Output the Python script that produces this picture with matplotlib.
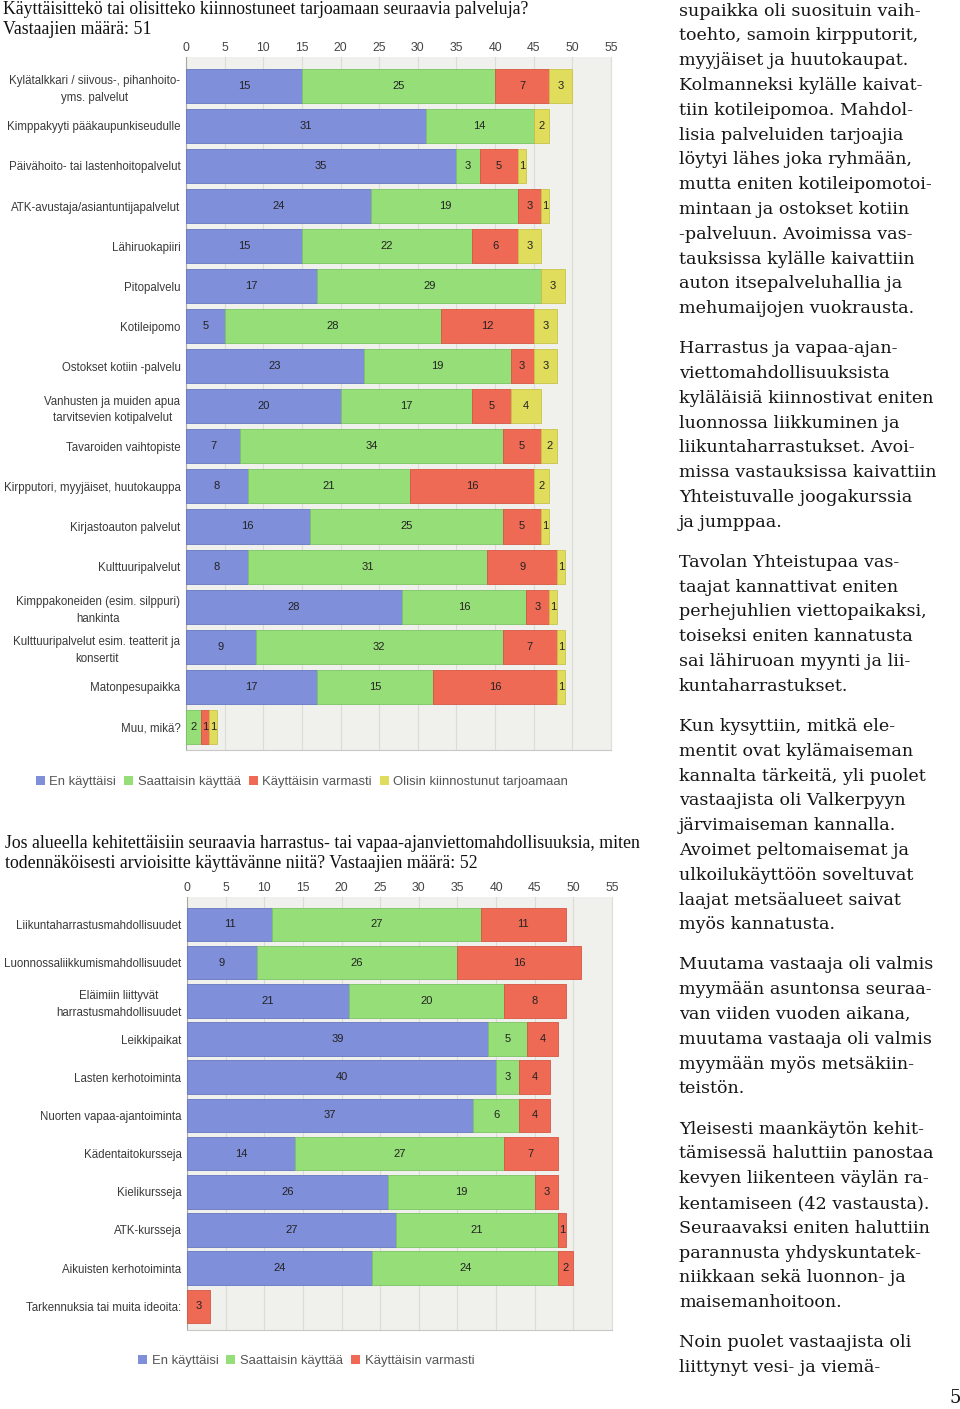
import matplotlib
matplotlib.use("Agg")
import matplotlib.pyplot as plt
from matplotlib.patches import Patch
import numpy as np

# ---------------- data ----------------
cats1 = ["Kylätalkkari / siivous-, pihanhoito-\nyms. palvelut",
         "Kimppakyyti pääkaupunkiseudulle",
         "Päivähoito- tai lastenhoitopalvelut",
         "ATK-avustaja/asiantuntijapalvelut",
         "Lähiruokapiiri",
         "Pitopalvelu",
         "Kotileipomo",
         "Ostokset kotiin -palvelu",
         "Vanhusten ja muiden apua\ntarvitsevien kotipalvelut",
         "Tavaroiden vaihtopiste",
         "Kirpputori, myyjäiset, huutokauppa",
         "Kirjastoauton palvelut",
         "Kulttuuripalvelut",
         "Kimppakoneiden (esim. silppuri)\nhankinta",
         "Kulttuuripalvelut esim. teatterit ja\nkonsertit",
         "Matonpesupaikka",
         "Muu, mikä?"]
en_kayttaisi1 = [15, 31, 35, 24, 15, 17, 5, 23, 20, 7, 8, 16, 8, 28, 9, 17, 0]
saattaisin1   = [25, 14, 3, 19, 22, 29, 28, 19, 17, 34, 21, 25, 31, 16, 32, 15, 2]
varmasti1     = [7, 0, 5, 3, 6, 0, 12, 3, 5, 5, 16, 5, 9, 3, 7, 16, 1]
tarjoamaan1   = [3, 2, 1, 1, 3, 3, 3, 3, 4, 2, 2, 1, 1, 1, 1, 1, 1]
series1_names = ["En käyttäisi", "Saattaisin käyttää", "Käyttäisin varmasti",
                 "Olisin kiinnostunut tarjoamaan"]

cats2 = ["Liikuntaharrastusmahdollisuudet",
         "Luonnossaliikkumismahdollisuudet",
         "Eläimiin liittyvät\nharrastusmahdollisuudet",
         "Leikkipaikat",
         "Lasten kerhotoiminta",
         "Nuorten vapaa-ajantoiminta",
         "Kädentaitokursseja",
         "Kielikursseja",
         "ATK-kursseja",
         "Aikuisten kerhotoiminta",
         "Tarkennuksia tai muita ideoita:"]
en_kayttaisi2 = [11, 9, 21, 39, 40, 37, 14, 26, 27, 24, 0]
saattaisin2   = [27, 26, 20, 5, 3, 6, 27, 19, 21, 24, 0]
varmasti2     = [11, 16, 8, 4, 4, 4, 7, 3, 1, 2, 3]
series2_names = ["En käyttäisi", "Saattaisin käyttää", "Käyttäisin varmasti"]

xticks = [0, 5, 10, 15, 20, 25, 30, 35, 40, 45, 50, 55]

title1 = ["Käyttäisittekö tai olisitteko kiinnostuneet tarjoamaan seuraavia palveluja?",
          "Vastaajien määrä: 51"]
title2 = ["Jos alueella kehitettäisiin seuraavia harrastus- tai vapaa-ajanviettomahdollisuuksia, miten",
          "todennäköisesti arvioisitte käyttävänne niitä? Vastaajien määrä: 52"]

paragraphs = [
    ["supaikka oli suosituin vaih-",
     "toehto, samoin kirpputorit,",
     "myyjäiset ja huutokaupat.",
     "Kolmanneksi kylälle kaivat-",
     "tiin kotileipomoa. Mahdol-",
     "lisia palveluiden tarjoajia",
     "löytyi lähes joka ryhmään,",
     "mutta eniten kotileipomotoi-",
     "mintaan ja ostokset kotiin",
     "-palveluun. Avoimissa vas-",
     "tauksissa kylälle kaivattiin",
     "auton itsepalveluhallia ja",
     "mehumaijojen vuokrausta."],
    ["Harrastus ja vapaa-ajan-",
     "viettomahdollisuuksista",
     "kyläläisiä kiinnostivat eniten",
     "luonnossa liikkuminen ja",
     "liikuntaharrastukset. Avoi-",
     "missa vastauksissa kaivattiin",
     "Yhteistuvalle joogakurssia",
     "ja jumppaa."],
    ["Tavolan Yhteistupaa vas-",
     "taajat kannattivat eniten",
     "perhejuhlien viettopaikaksi,",
     "toiseksi eniten kannatusta",
     "sai lähiruoan myynti ja lii-",
     "kuntaharrastukset."],
    ["Kun kysyttiin, mitkä ele-",
     "mentit ovat kylämaiseman",
     "kannalta tärkeitä, yli puolet",
     "vastaajista oli Valkerpyyn",
     "järvimaiseman kannalla.",
     "Avoimet peltomaisemat ja",
     "ulkoilukäyttöön soveltuvat",
     "laajat metsäalueet saivat",
     "myös kannatusta."],
    ["Muutama vastaaja oli valmis",
     "myymään asuntonsa seuraa-",
     "van viiden vuoden aikana,",
     "muutama vastaaja oli valmis",
     "myymään myös metsäkiin-",
     "teistön."],
    ["Yleisesti maankäytön kehit-",
     "tämisessä haluttiin panostaa",
     "kevyen liikenteen väylän ra-",
     "kentamiseen (42 vastausta).",
     "Seuraavaksi eniten haluttiin",
     "parannusta yhdyskuntatek-",
     "niikkaan sekä luonnon- ja",
     "maisemanhoitoon."],
    ["Noin puolet vastaajista oli",
     "liittynyt vesi- ja viemä-"],
]
page_number = "5"

# ---------------- style ----------------
W, H = 960, 1409
colors = ["#7f8fd9", "#95de78", "#ee6a55", "#e0dc5c"]
edge = ["#6676c0", "#7cc464", "#d65642", "#c8c44a"]
sans = ["Liberation Sans", "DejaVu Sans"]
serif = ["Liberation Serif", "DejaVu Serif"]
body_serif = ["DejaVu Serif"]

fig = plt.figure(figsize=(W / 100, H / 100), dpi=100)
fig.patch.set_facecolor("white")


def fx(px):
    return px / W


def fy(py):
    return 1 - py / H


def draw_chart(ax, cats, series, bar_h, ylim):
    n = len(cats)
    y = np.arange(n)
    ax.set_facecolor("#f0f1ec")
    left = np.zeros(n)
    for k, vals in enumerate(series):
        vals = np.array(vals, dtype=float)
        ax.barh(y, vals, left=left, height=bar_h, color=colors[k],
                edgecolor=edge[k], linewidth=0.6, zorder=3)
        for i, v in enumerate(vals):
            if v > 0:
                ax.text(left[i] + v / 2, y[i], f"{int(v)}", ha="center",
                        va="center", fontsize=8, color="#222222",
                        family=sans, zorder=4)
        left += vals
    ax.set_xlim(0, 55)
    ax.set_ylim(*ylim)
    ax.set_yticks(y)
    labels = ax.set_yticklabels(cats, fontsize=8.3, color="#3a3a3a",
                                family=sans, linespacing=1.5)
    for lb in labels:
        lb.set_multialignment("center")
    ax.set_xticks(xticks)
    ax.set_xticklabels([str(t) for t in xticks], fontsize=8.8,
                       color="#444444", family=sans)
    ax.xaxis.tick_top()
    ax.tick_params(axis="both", length=0, pad=4)
    ax.tick_params(axis="x", pad=2)
    ax.grid(axis="x", color="#dcdcd6", linewidth=0.8, zorder=0)
    ax.set_axisbelow(True)
    ax.spines["top"].set_visible(False)
    ax.spines["left"].set_color("#a8a8a8")
    ax.spines["bottom"].set_color("#c8c8c8")
    ax.spines["right"].set_color("#dddddd")
    return ax


# chart 1
ax1 = fig.add_axes([fx(186), fy(750), fx(611) - fx(186), fy(57) - fy(750)])
draw_chart(ax1, cats1, [en_kayttaisi1, saattaisin1, varmasti1, tarjoamaan1],
           0.85, (16.58, -0.72))

# chart 2
ax2 = fig.add_axes([fx(187), fy(1330), fx(612) - fx(187), fy(897) - fy(1330)])
draw_chart(ax2, cats2, [en_kayttaisi2, saattaisin2, varmasti2],
           0.88, (10.62, -0.72))

# legends
legend_kw = dict(loc="center", frameon=False,
                 prop={"family": sans, "size": 9.4}, handlelength=0.7,
                 handleheight=0.7, handletextpad=0.35, columnspacing=0.6,
                 labelcolor="#555555")
h1 = [Patch(facecolor=colors[k], edgecolor="none") for k in range(4)]
fig.legend(h1, series1_names, ncol=4, bbox_to_anchor=(fx(302), fy(782)),
           **legend_kw)
h2 = [Patch(facecolor=colors[k], edgecolor="none") for k in range(3)]
fig.legend(h2, series2_names, ncol=3, bbox_to_anchor=(fx(306), fy(1361)),
           **legend_kw)

# titles
for i, line in enumerate(title1):
    fig.text(fx(3), fy(10 + i * 19.5), line, ha="left", va="center",
             fontsize=12.8, family=serif, color="#111111")
for i, line in enumerate(title2):
    fig.text(fx(5), fy(843 + i * 20), line, ha="left", va="center",
             fontsize=12.8, family=serif, color="#111111")

# right text column
y = 11.0
for p, lines in enumerate(paragraphs):
    for line in lines:
        fig.text(fx(679), fy(y), line, ha="left", va="center",
                 fontsize=12.6, family=body_serif, color="#161616")
        y += 24.8
    y += 15.3
fig.text(fx(955), fy(1398), page_number, ha="center", va="center",
         fontsize=13, family=body_serif, color="#161616")

fig.savefig("out.png", dpi=100, facecolor="white")
